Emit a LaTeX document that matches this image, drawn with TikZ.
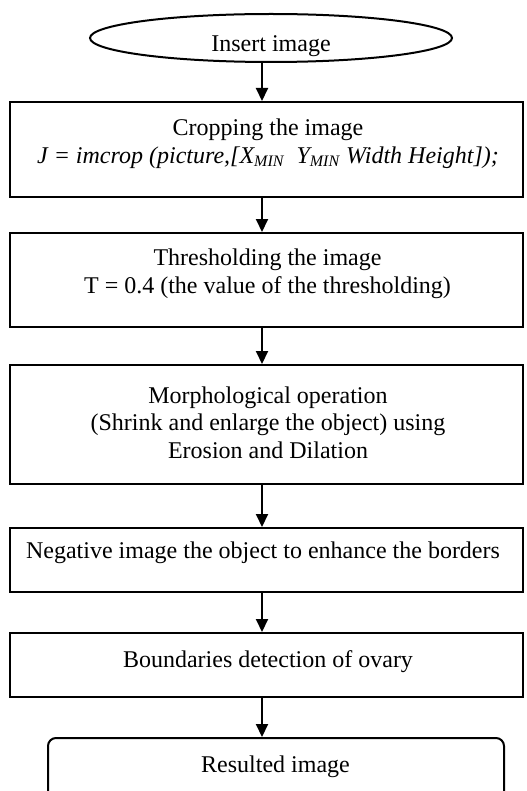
\documentclass[tikz,border=0pt]{standalone}
\usepackage{fontspec}
\setmainfont{Liberation Serif}
\usetikzlibrary{shapes.geometric,arrows.meta}
\tikzset{
  stepbox/.style={draw,line width=1pt,minimum width=256.5pt,inner sep=0pt},
  flowarrow/.style={-{Triangle[length=6.5pt,width=6pt]},line width=1pt},
  boxtext/.style={align=center,inner sep=0pt,font=\fontsize{12}{13.8}\selectfont}
}
\begin{document}
\begin{tikzpicture}[x=0.5pt,y=-0.5pt]
\useasboundingbox (0,0) rectangle (526,791);
% start of the chart
\node[draw,ellipse,line width=1pt,minimum width=181pt,minimum height=24pt,inner sep=0pt] (insert) at (271,38) {};
\node[boxtext] (inserttext) at (271,46) {Insert image};
% the steps
\node[stepbox,minimum height=47.5pt] (crop) at (266.5,149.5) {};
\node[boxtext] (croptext) at (268,143.5) {Cropping the image\\
  \textit{J = imcrop (picture,[X\textsubscript{MIN}~ Y\textsubscript{MIN} Width Height]);}};
\node[stepbox,minimum height=47pt] (thresh) at (266.5,280) {};
\node[boxtext] (threshtext) at (267.5,274) {Thresholding the image\\ T = 0.4 (the value of the thresholding)};
\node[stepbox,minimum height=59.5pt] (morph) at (266.5,424.5) {};
\node[boxtext] (morphtext) at (268,422.5) {Morphological operation\\ (Shrink and enlarge the object) using\\ Erosion and Dilation};
\node[stepbox,minimum height=32pt] (negative) at (266.5,560) {};
\node[boxtext] (negativetext) at (263,553) {Negative image the object to enhance the borders};
\node[stepbox,minimum height=32pt] (boundary) at (266.5,665) {};
\node[boxtext] (boundarytext) at (268,661.5) {Boundaries detection of ovary};
% end of the chart
\node[stepbox,rounded corners=4pt,minimum width=228pt,minimum height=31pt] (result) at (276,769) {};
\node[boxtext] (resulttext) at (275.5,767) {Resulted image};
% arrows
\coordinate (ax) at (262,0);
\foreach \a/\b in {insert/crop,crop/thresh,thresh/morph,morph/negative,negative/boundary,boundary/result}
  \draw[flowarrow] (\a.south -| ax) -- (\b.north -| ax);
\end{tikzpicture}
\end{document}
